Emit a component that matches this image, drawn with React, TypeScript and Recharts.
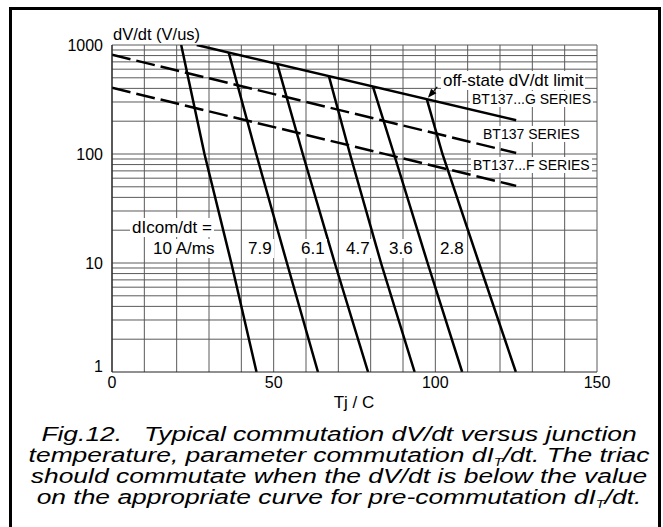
import React from "react";
import { LineChart, Line, XAxis, YAxis, CartesianGrid, ReferenceLine } from "recharts";

// Tj in degrees C, dV/dt in V/us
const tempTicks = [0, 50, 100, 150];
const dvdtTicks = [1, 10, 100, 1000];
const tempGridLines = [0, 10, 20, 30, 40, 50, 60, 70, 80, 90, 100, 110, 120, 130, 140, 150];
const dvdtGridLines = [
  2, 3, 4, 5, 6, 7, 8, 9, 10, 20, 30, 40, 50, 60, 70, 80, 90, 100, 200, 300, 400, 500, 600,
  700, 800, 900, 1000,
];

// off-state dV/dt limits
const gSeriesTj = [26.2, 125];
const gSeriesDvdt = [1000, 204];
const stdSeriesTj = [0, 125];
const stdSeriesDvdt = [815, 102];
const fSeriesTj = [0, 125];
const fSeriesDvdt = [405, 51];

// commutation curves, one per dIcom/dt
const comm10Tj = [21.4, 28.6, 36.9, 44.7];
const comm10Dvdt = [1000, 100, 10, 1];
const comm79Tj = [36.1, 44.6, 54.1, 63.7];
const comm79Dvdt = [850, 100, 10, 1];
const comm61Tj = [51.1, 59.0, 68.9, 79.2];
const comm61Dvdt = [670, 100, 10, 1];
const comm47Tj = [67.1, 73.6, 83.2, 93.6];
const comm47Dvdt = [516, 100, 10, 1];
const comm36Tj = [80.7, 87.2, 97.6, 108.3];
const comm36Dvdt = [414, 100, 10, 1];
const comm28Tj = [97.4, 102.2, 113.5, 124.9];
const comm28Dvdt = [316, 100, 10, 1];

const commLabels = ["10 A/ms", "7.9", "6.1", "4.7", "3.6", "2.8"];
const commLabelLeft = [153, 248, 301, 346, 389, 440];

const FONT = '"Liberation Sans", Arial, Helvetica, sans-serif';

const pts = (xs: number[], ys: number[]) => xs.map((x, i) => ({ x, y: ys[i] }));

const YTick = (props: any) => {
  const { x, y, payload } = props;
  const lift = payload.value === 1 ? 6 : 0;
  return (
    <text x={x} y={y - lift} dy="0.355em" textAnchor="end" fontSize={16} fontFamily={FONT} fill="#000">
      {payload.value}
    </text>
  );
};

const XTick = (props: any) => {
  const { x, y, payload } = props;
  return (
    <text x={x} y={y} dy="0.71em" textAnchor="middle" fontSize={16} fontFamily={FONT} fill="#000">
      {payload.value}
    </text>
  );
};

const Arrow = (props: any) => {
  const { x1, y1, x2, y2 } = props;
  const dx = x2 - x1;
  const dy = y2 - y1;
  const len = Math.sqrt(dx * dx + dy * dy) || 1;
  const ux = dx / len;
  const uy = dy / len;
  const bx = x2 - ux * 9;
  const by = y2 - uy * 9;
  return (
    <g>
      <line x1={x1} y1={y1} x2={bx} y2={by} stroke="#000" strokeWidth={1.2} />
      <polygon
        points={`${x2},${y2} ${bx - uy * 3.5},${by + ux * 3.5} ${bx + uy * 3.5},${by - ux * 3.5}`}
        fill="#000"
      />
    </g>
  );
};

const Label = ({ text, left, cy, size }: { text: string; left: number; cy: number; size: number }) => (
  <div
    style={{
      position: "absolute",
      left: left - 2,
      top: cy - size * 0.49 - 1,
      fontSize: size,
      lineHeight: `${size}px`,
      fontFamily: FONT,
      background: "#fff",
      padding: "1px 2px",
      whiteSpace: "nowrap",
      color: "#000",
    }}
  >
    {text}
  </div>
);

const subT = <sub style={{ fontSize: 11, verticalAlign: -4, lineHeight: 0 }}>T</sub>;

export default function App() {
  const solid = { stroke: "#000", strokeWidth: 2.5, dot: false, isAnimationActive: false, type: "linear" as const };
  return (
    <div style={{ position: "absolute", left: 0, top: 0, width: 663, height: 527, overflow: "hidden", background: "#fff" }}>
      <div
        style={{
          position: "absolute",
          left: 9,
          top: 7,
          width: 646,
          height: 540,
          border: "3px solid #000",
        }}
      />
      <div style={{ position: "absolute", left: 0, top: 0 }}>
        <LineChart width={663} height={527} margin={{ top: 45, right: 66, bottom: 125, left: 52 }}>
          <CartesianGrid horizontal={false} verticalValues={tempGridLines} stroke="#5a5a5a" strokeWidth={1} />
          {dvdtGridLines.map((v) => (
            <ReferenceLine key={v} y={v} stroke="#5a5a5a" strokeWidth={1} />
          ))}
          <XAxis
            type="number"
            dataKey="x"
            domain={[0, 150]}
            ticks={tempTicks}
            tick={<XTick />}
            tickLine={false}
            tickSize={0}
            tickMargin={5}
            height={30}
            axisLine={{ stroke: "#222", strokeWidth: 1.2 }}
            allowDataOverflow
          />
          <YAxis
            type="number"
            dataKey="y"
            scale="log"
            domain={[1, 1000]}
            ticks={dvdtTicks}
            tick={<YTick />}
            tickLine={false}
            tickSize={0}
            tickMargin={9}
            width={60}
            axisLine={{ stroke: "#222", strokeWidth: 1.2 }}
            allowDataOverflow
          />
          <Line data={pts(gSeriesTj, gSeriesDvdt)} dataKey="y" {...solid} />
          <Line data={pts(stdSeriesTj, stdSeriesDvdt)} dataKey="y" {...solid} strokeDasharray="19 6" />
          <Line data={pts(fSeriesTj, fSeriesDvdt)} dataKey="y" {...solid} strokeDasharray="19 6" />
          <Line data={pts(comm10Tj, comm10Dvdt)} dataKey="y" {...solid} />
          <Line data={pts(comm79Tj, comm79Dvdt)} dataKey="y" {...solid} />
          <Line data={pts(comm61Tj, comm61Dvdt)} dataKey="y" {...solid} />
          <Line data={pts(comm47Tj, comm47Dvdt)} dataKey="y" {...solid} />
          <Line data={pts(comm36Tj, comm36Dvdt)} dataKey="y" {...solid} />
          <Line data={pts(comm28Tj, comm28Dvdt)} dataKey="y" {...solid} />
          <ReferenceLine
            segment={[
              { x: 100.6, y: 412 },
              { x: 97.7, y: 328 },
            ]}
            shape={Arrow}
            ifOverflow="visible"
          />
        </LineChart>
      </div>

      <div style={{ position: "absolute", left: 113, top: 26, fontSize: 16.5, lineHeight: "17px", fontFamily: FONT }}>
        dV/dt (V/us)
      </div>
      <div
        style={{ position: "absolute", left: 254, width: 200, textAlign: "center", top: 394, fontSize: 17, lineHeight: "17px", fontFamily: FONT }}
      >
        Tj / C
      </div>

      <Label text="off-state dV/dt limit" left={443} cy={80.7} size={17} />
      <Label text="BT137...G SERIES" left={472} cy={99} size={14} />
      <Label text="BT137 SERIES" left={483} cy={134.3} size={14} />
      <Label text="BT137...F SERIES" left={473} cy={165} size={14} />
      <Label text="dIcom/dt =" left={132} cy={227.7} size={17} />
      {commLabels.map((t, i) => (
        <Label key={t} text={t} left={commLabelLeft[i]} cy={248.5} size={17} />
      ))}

      <div
        style={{
          position: "absolute",
          left: 0,
          width: 678,
          top: 423.5,
          textAlign: "center",
          fontFamily: FONT,
          fontStyle: "italic",
          fontSize: 20,
          lineHeight: "21px",
          color: "#000",
          transform: "scaleX(1.32)",
          transformOrigin: "339px 0",
        }}
      >
        <div>Fig.12.&nbsp;&nbsp;&nbsp;Typical commutation dV/dt versus junction</div>
        <div>temperature, parameter commutation dI{subT}/dt. The triac</div>
        <div>should commutate when the dV/dt is below the value</div>
        <div>on the appropriate curve for pre-commutation dI{subT}/dt.</div>
      </div>
    </div>
  );
}
